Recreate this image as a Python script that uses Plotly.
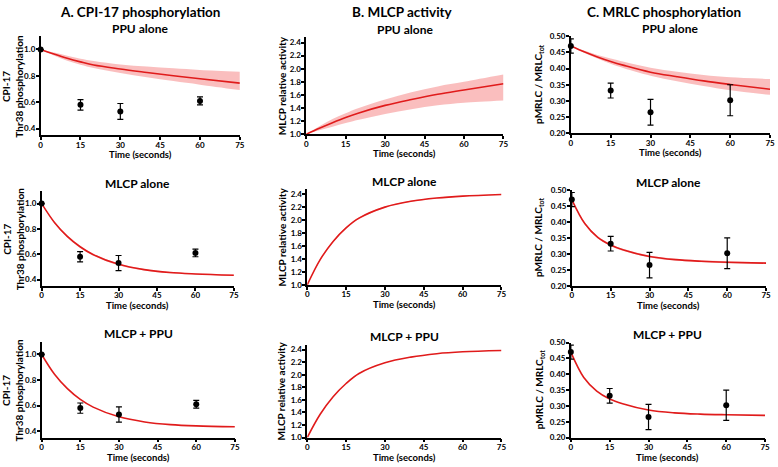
import plotly.graph_objects as go

# ---------------- data ----------------
t_data = [0, 15, 30, 60]
cpi_mean = [1.0, 0.58, 0.53, 0.61]
cpi_err = [0.0, 0.04, 0.06, 0.03]
mrlc_mean = [0.47, 0.332, 0.265, 0.302]
mrlc_err = [0.022, 0.023, 0.04, 0.048]

t_curve = [0, 5, 10, 15, 20, 30, 40, 50, 60, 75]

cpi_ppu = [1.0, 0.965, 0.933, 0.906, 0.882, 0.852, 0.826, 0.801, 0.778, 0.745]
cpi_ppu_hi = [1.0, 0.977, 0.953, 0.930, 0.913, 0.886, 0.870, 0.857, 0.845, 0.832]
cpi_ppu_lo = [1.0, 0.955, 0.915, 0.885, 0.860, 0.822, 0.790, 0.760, 0.733, 0.692]
cpi_mlcp = [1.0, 0.851, 0.741, 0.659, 0.598, 0.520, 0.478, 0.455, 0.444, 0.434]
cpi_mlcp_hi = [1.0, 0.858, 0.749, 0.667, 0.606, 0.527, 0.484, 0.461, 0.449, 0.439]
cpi_mlcp_lo = [1.0, 0.844, 0.733, 0.651, 0.590, 0.513, 0.472, 0.449, 0.439, 0.429]
cpi_both = [1.0, 0.845, 0.732, 0.648, 0.588, 0.512, 0.472, 0.451, 0.441, 0.434]

mlcp_ppu = [1.0, 1.09, 1.175, 1.255, 1.325, 1.44, 1.53, 1.61, 1.675, 1.77]
mlcp_ppu_hi = [1.0, 1.12, 1.23, 1.32, 1.40, 1.53, 1.64, 1.73, 1.80, 1.91]
mlcp_ppu_lo = [1.0, 1.06, 1.115, 1.17, 1.22, 1.31, 1.38, 1.44, 1.48, 1.515]
mlcp_mlcp = [1.0, 1.39, 1.67, 1.88, 2.03, 2.20, 2.29, 2.34, 2.37, 2.395]
mlcp_mlcp_hi = [1.0, 1.402, 1.684, 1.894, 2.042, 2.210, 2.298, 2.346, 2.375, 2.399]
mlcp_mlcp_lo = [1.0, 1.378, 1.656, 1.866, 2.018, 2.190, 2.282, 2.334, 2.365, 2.391]
mlcp_both = [1.0, 1.37, 1.65, 1.86, 2.02, 2.19, 2.28, 2.335, 2.365, 2.385]

mrlc_ppu = [0.47, 0.452, 0.436, 0.422, 0.410, 0.389, 0.375, 0.362, 0.351, 0.336]
mrlc_ppu_hi = [0.47, 0.456, 0.442, 0.431, 0.421, 0.403, 0.390, 0.380, 0.373, 0.368]
mrlc_ppu_lo = [0.47, 0.449, 0.431, 0.415, 0.401, 0.378, 0.361, 0.346, 0.333, 0.319]
mrlc_mlcp = [0.47, 0.395, 0.352, 0.328, 0.312, 0.292, 0.282, 0.277, 0.274, 0.271]
mrlc_mlcp_hi = [0.47, 0.398, 0.355, 0.331, 0.315, 0.295, 0.285, 0.280, 0.277, 0.274]
mrlc_mlcp_lo = [0.47, 0.392, 0.349, 0.325, 0.309, 0.289, 0.279, 0.274, 0.271, 0.268]
mrlc_both = [0.47, 0.390, 0.347, 0.322, 0.307, 0.287, 0.278, 0.274, 0.272, 0.270]

x_ticks = [0, 15, 30, 45, 60, 75]
cpi_ticks = [0.4, 0.6, 0.8, 1.0]
mlcp_ticks = [1.0, 1.2, 1.4, 1.6, 1.8, 2.0, 2.2, 2.4]
mrlc_ticks = [0.20, 0.25, 0.30, 0.35, 0.40, 0.45, 0.50]

col_titles = ["A. CPI-17 phosphorylation", "B. MLCP activity", "C. MRLC phosphorylation"]
row_titles = ["PPU alone", "MLCP alone", "MLCP + PPU"]
y_titles = ["CPI-17<br>Thr38 phosphorylation", "MLCP relative activity", "pMRLC / MRLC<sub>tot</sub>"]
x_title = "Time (seconds)"

# ---------------- layout geometry (pixels) ----------------
W, H = 778, 467
FONT = "Lato"
RED = "#e01b1b"
BAND = "rgba(246,125,125,0.5)"

# (left, right, top, bottom)
boxes = [
    [(39, 240, 32, 133), (307, 506, 33, 132), (574, 775, 32, 131)],
    [(40, 234, 190, 287), (308, 504, 188, 286), (575, 771, 189, 287)],
    [(40, 235, 344, 442), (308, 504, 347, 442), (574, 770, 345, 442)],
]

panels = [
    [dict(y=cpi_ppu, hi=cpi_ppu_hi, lo=cpi_ppu_lo, pts="cpi"),
     dict(y=mlcp_ppu, hi=mlcp_ppu_hi, lo=mlcp_ppu_lo, pts=None),
     dict(y=mrlc_ppu, hi=mrlc_ppu_hi, lo=mrlc_ppu_lo, pts="mrlc")],
    [dict(y=cpi_mlcp, hi=cpi_mlcp_hi, lo=cpi_mlcp_lo, pts="cpi"),
     dict(y=mlcp_mlcp, hi=mlcp_mlcp_hi, lo=mlcp_mlcp_lo, pts=None),
     dict(y=mrlc_mlcp, hi=mrlc_mlcp_hi, lo=mrlc_mlcp_lo, pts="mrlc")],
    [dict(y=cpi_both, hi=None, lo=None, pts="cpi"),
     dict(y=mlcp_both, hi=None, lo=None, pts=None),
     dict(y=mrlc_both, hi=None, lo=None, pts="mrlc")],
]

y_cfg = [
    dict(range=[0.35, 1.1], tickvals=cpi_ticks, tickformat=".1f"),
    dict(range=[1.0, 2.48], tickvals=mlcp_ticks, tickformat=".1f"),
    dict(range=[0.2, 0.5], tickvals=mrlc_ticks, tickformat=".2f"),
]

fig = go.Figure()
annotations = []
layout_axes = {}

bold = dict(family=FONT, color="black", weight="bold")

idx = 0
for r in range(3):
    for c in range(3):
        idx += 1
        xa = "x" if idx == 1 else f"x{idx}"
        ya = "y" if idx == 1 else f"y{idx}"
        L, R, T, B = boxes[r][c]
        p = panels[r][c]
        if p["hi"] is not None:
            fig.add_trace(go.Scatter(x=t_curve, y=p["hi"], mode="lines",
                                     line=dict(width=0, shape="spline", color=BAND),
                                     hoverinfo="skip", showlegend=False, xaxis=xa, yaxis=ya))
            fig.add_trace(go.Scatter(x=t_curve, y=p["lo"], mode="lines",
                                     line=dict(width=0, shape="spline", color=BAND),
                                     fill="tonexty", fillcolor=BAND,
                                     hoverinfo="skip", showlegend=False, xaxis=xa, yaxis=ya))
        fig.add_trace(go.Scatter(x=t_curve, y=p["y"], mode="lines",
                                 line=dict(width=1.6, shape="spline", color=RED),
                                 showlegend=False, xaxis=xa, yaxis=ya))
        if p["pts"] == "cpi":
            ym, ye = cpi_mean, cpi_err
        elif p["pts"] == "mrlc":
            ym, ye = mrlc_mean, mrlc_err
        else:
            ym = None
        if ym is not None:
            fig.add_trace(go.Scatter(x=t_data, y=ym, mode="markers",
                                     marker=dict(size=6, color="black"),
                                     error_y=dict(type="data", array=ye, visible=True,
                                                  color="black", thickness=1.2, width=3),
                                     cliponaxis=False, showlegend=False,
                                     xaxis=xa, yaxis=ya))
        axcommon = dict(showline=True, linecolor="black", linewidth=1.5,
                        ticks="outside", ticklen=3, tickwidth=1.5, tickcolor="black",
                        showgrid=False, zeroline=False,
                        tickfont=dict(size=8, **bold))
        layout_axes["xaxis" if idx == 1 else f"xaxis{idx}"] = dict(
            domain=[L / W, R / W], anchor=ya, range=[0, 75], tickvals=x_ticks,
            ticklabelstandoff=-2, **axcommon)
        layout_axes["yaxis" if idx == 1 else f"yaxis{idx}"] = dict(
            domain=[1 - B / H, 1 - T / H], anchor=xa, ticklabelstandoff=-1,
            **y_cfg[c], **axcommon)

        # row title
        annotations.append(dict(text=row_titles[r], x=(L + R) / 2 / W, y=1 - (T - 8) / H,
                                xref="paper", yref="paper", showarrow=False,
                                xanchor="center", yanchor="middle",
                                font=dict(size=12, **bold)))
        # x title
        annotations.append(dict(text=x_title, x=(L + R) / 2 / W, y=1 - (B + 20) / H,
                                xref="paper", yref="paper", showarrow=False,
                                xanchor="center", yanchor="middle",
                                font=dict(size=9.5, **bold)))
        # y title
        yt_x = [11, 282, 542][c]
        annotations.append(dict(text=y_titles[c], x=yt_x / W, y=1 - (T + B) / 2 / H,
                                xref="paper", yref="paper", showarrow=False,
                                xanchor="center", yanchor="middle", textangle=-90,
                                font=dict(size=10, **bold)))

col_centers = [139, 404, 668]
for c in range(3):
    annotations.append(dict(text=col_titles[c], x=col_centers[c] / W, y=1 - 7 / H,
                            xref="paper", yref="paper", showarrow=False,
                            xanchor="center", yanchor="middle",
                            font=dict(size=13.5, **bold)))

fig.update_layout(width=W, height=H, margin=dict(l=0, r=0, t=0, b=0),
                  paper_bgcolor="white", plot_bgcolor="white",
                  annotations=annotations, font=dict(family=FONT), **layout_axes)

fig.write_html("out.html", config={"displayModeBar": False},
               post_script="document.body.style.margin='0';document.body.style.overflow='hidden';")
